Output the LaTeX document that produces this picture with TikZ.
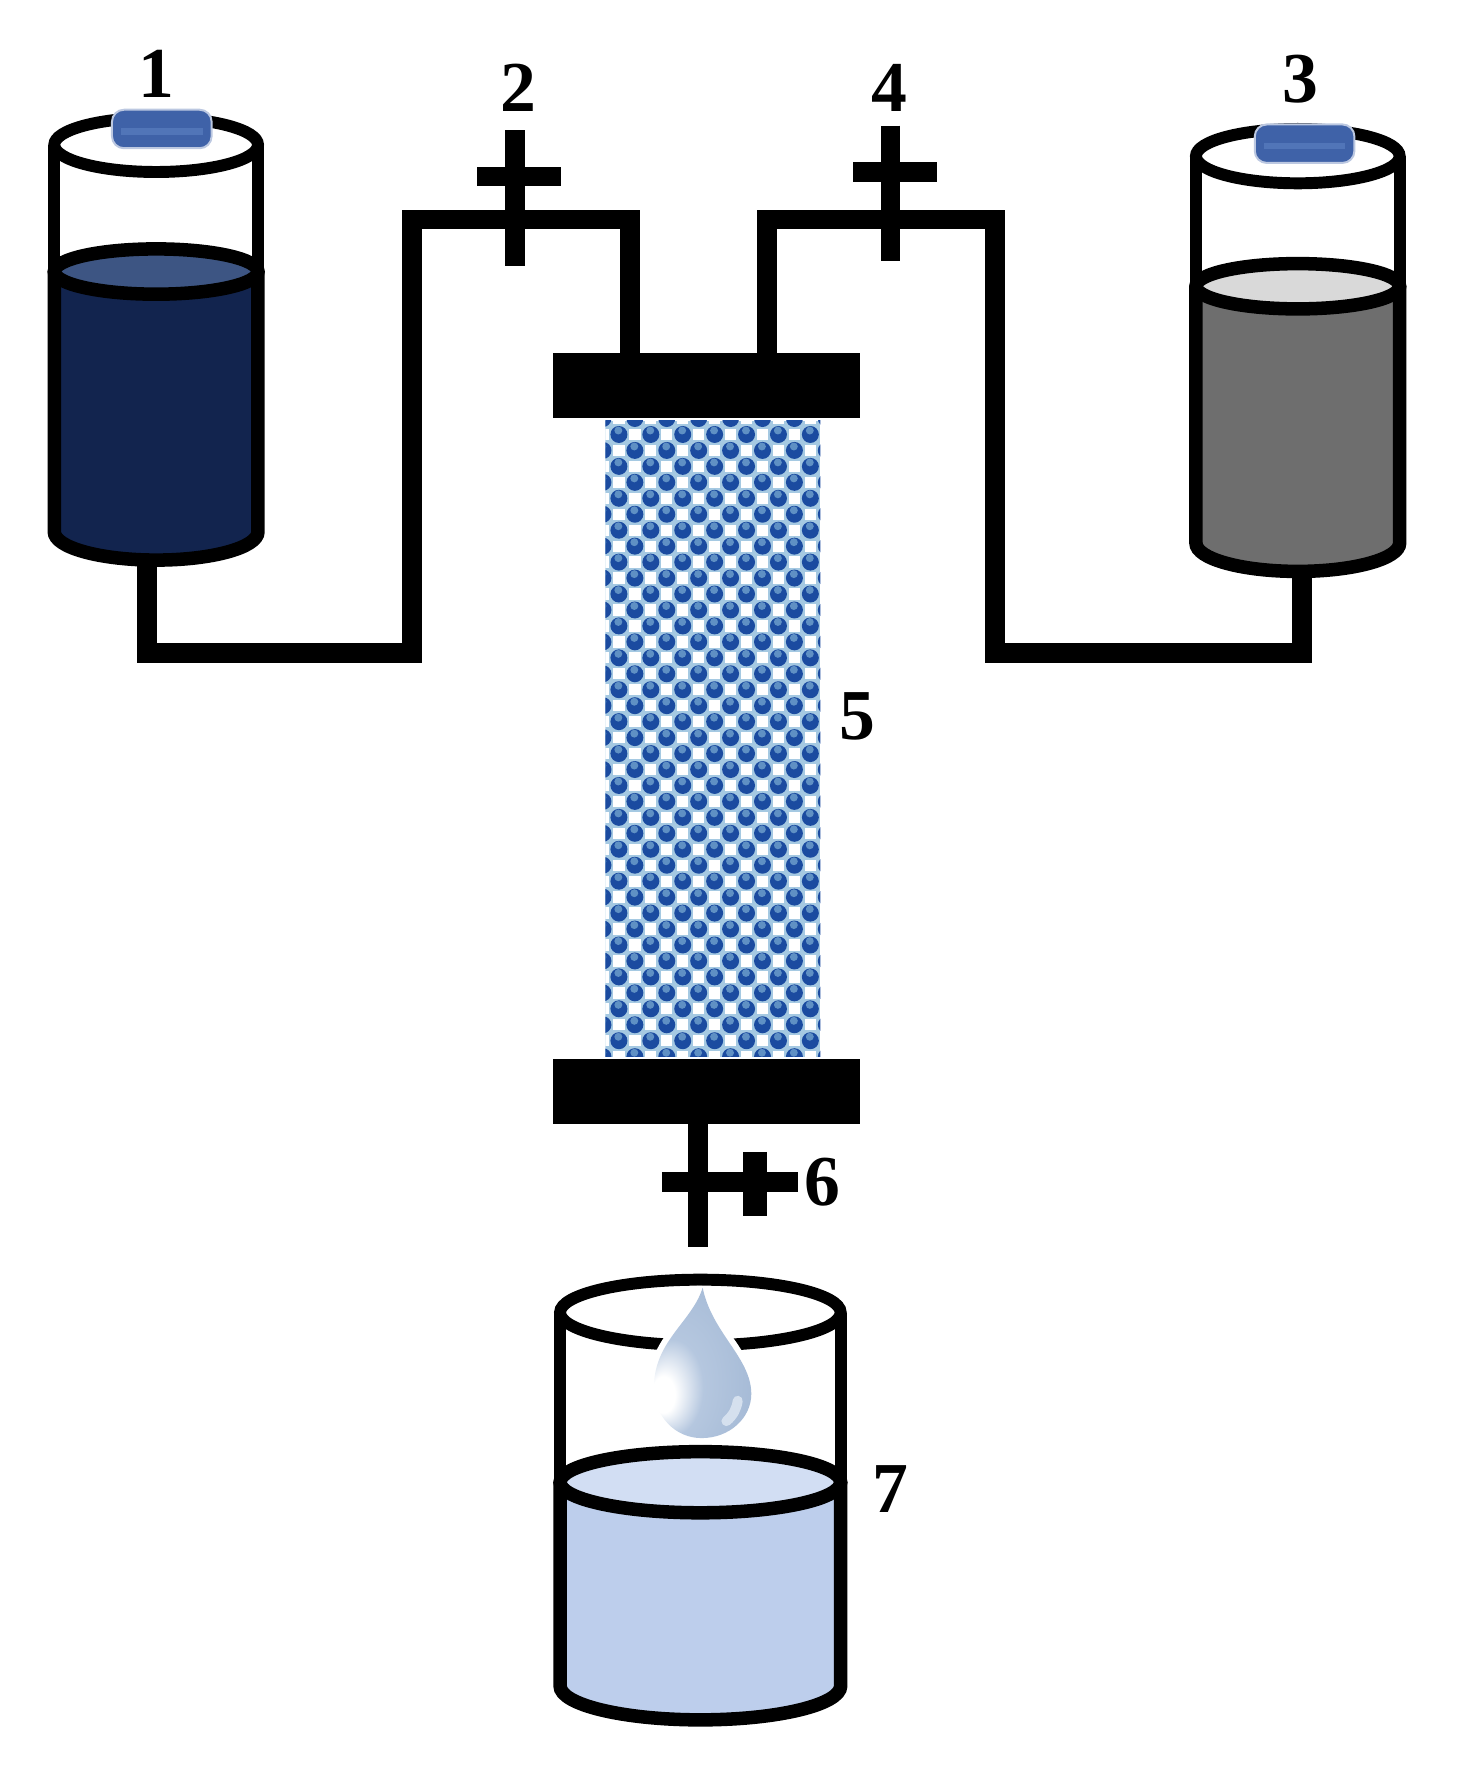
\documentclass[tikz,border=0pt]{standalone}
\usepackage{fontspec}
\setmainfont{Liberation Serif}
\usepackage{xcolor}
\definecolor{liqone}{HTML}{12244E}
\definecolor{surfone}{HTML}{3D5583}
\definecolor{liqthree}{HTML}{6E6E6E}
\definecolor{surfthree}{HTML}{D9D9D9}
\definecolor{liqseven}{HTML}{BDCEEC}
\definecolor{surfseven}{HTML}{D2DEF3}
\definecolor{capblue}{HTML}{3F62A8}
\definecolor{caplight}{HTML}{5175B8}
\definecolor{packback}{HTML}{A5C9E2}
\definecolor{packdark}{HTML}{1B4BA0}
\definecolor{packlight}{HTML}{5F90C4}
\definecolor{dropa}{HTML}{B5C7DF}
\definecolor{dropb}{HTML}{A5BAD6}
\definecolor{dropc}{HTML}{88A3C6}
\definecolor{dropd}{HTML}{D5E0EE}
\pgfdeclareradialshading{dropshade}{\pgfpoint{-23bp}{-12bp}}{color(0bp)=(white);color(6bp)=(white);color(16bp)=(dropa);color(35bp)=(dropb);color(50bp)=(dropc)}
\tikzset{
    pipe/.style={line width=5pt,line join=miter,color=black},
    valve/.style={line width=5pt,color=black},
    wall/.style={line width=3pt,color=black},
    plate/.style={fill=black,minimum width=2.71cm,minimum height=0.57cm,inner sep=0pt},
    capnode/.style={fill=capblue,draw=capblue!35!white,line width=0.5pt,rounded corners=3pt,minimum width=0.88cm,minimum height=0.34cm,inner sep=0pt},
    num/.style={font=\fontsize{18}{20}\selectfont\bfseries,inner sep=0pt}
}

\begin{document}
\begin{tikzpicture}[x=0.01cm,y=-0.01cm]
        \useasboundingbox (0,0) rectangle (1292,1567);

        % packed column
        \begin{scope}
        \clip (535,372) rectangle (725,934);
        \fill[packback] (535,372) rectangle (725,934);
        \foreach \ox/\oy in {547/384,561.1/398.1}
        \foreach \i in {-1,...,7}
        \foreach \j in {-1,...,20}
        {
        \fill[white,shift={(\ox+28.2*\i+14.1,\oy+28.2*\j)}] (-5,-5) rectangle (5,5);
        \fill[packdark,shift={(\ox+28.2*\i,\oy+28.2*\j)}] (0,0) circle (0.075cm);
        \fill[packlight,shift={(\ox+28.2*\i,\oy+28.2*\j)}] (-0.5,-3.5) circle (0.035cm);
        }
        \end{scope}

        % the three vessels: name, centre, half width, rim, level, base, their radii, colours
        \foreach \nm/\cx/\rx/\ya/\yb/\yc/\ra/\rb/\rc/\liq/\srf in {one/138/90/128/240/470/0.24/0.20/0.25/liqone/surfone,three/1147/90/138/253/480/0.24/0.20/0.25/liqthree/surfthree,seven/619/124/1160/1310/1490/0.29/0.27/0.30/liqseven/surfseven}
        {
        \fill[\liq] ({\cx-\rx},\yb) -- ({\cx-\rx},\yc) arc[start angle=180,end angle=360,x radius=\rx*0.01cm,y radius=\rc cm] -- ({\cx+\rx},\yb) -- cycle;
        \fill[\srf] (\cx,\yb) ellipse [x radius=\rx*0.01cm,y radius=\rb cm];
        \draw[wall] ({\cx-\rx},\ya) -- ({\cx-\rx},\yb) ({\cx+\rx},\ya) -- ({\cx+\rx},\yb);
        \draw[wall,line width=3.4pt] ({\cx-\rx},\yb) -- ({\cx-\rx},\yc) arc[start angle=180,end angle=360,x radius=\rx*0.01cm,y radius=\rc cm] -- ({\cx+\rx},\yb);
        \draw[wall] (\cx,\ya) ellipse [x radius=\rx*0.01cm,y radius=\ra cm];
        \draw[wall,line width=3.4pt] (\cx,\yb) ellipse [x radius=\rx*0.01cm,y radius=\rb cm];
        }

        \node[capnode] (capone) at (143,114) {};
        \node[capnode] (capthree) at (1153,127) {};
        \fill[caplight] (107,113) rectangle (179,119);
        \fill[caplight] (1117,126) rectangle (1189,132);

        % pipe corners
        \coordinate (outleft) at (130,495);
        \coordinate (lowleft) at (364,577);
        \coordinate (upleft) at (364,194);
        \coordinate (inleft) at (557,320);
        \coordinate (outright) at (1151,505);
        \coordinate (lowright) at (879,577);
        \coordinate (upright) at (879,194);
        \coordinate (inright) at (678,320);
        \coordinate (drainend) at (617,1102);

        \draw[pipe] (outleft) |- (lowleft) -- (upleft) -| (inleft);
        \draw[pipe] (outright) |- (lowright) -- (upright) -| (inright);

        % plates either end of the column
        \node[plate] (topplate) at (624.5,340.5) {};
        \node[plate] (lowplate) at (624.5,964.5) {};
        \draw[pipe] (lowplate.center -| drainend) -- (drainend);

        % valves
        \foreach \x/\y in {455/156,787/152}
        \draw[valve,shift={(\x,\y)}] (0,-41) -- (0,79) (-33,0) -- (41,0);
        \draw[valve] (585,1045) -- (705,1045);
        \draw[valve,line width=6pt] (667,1018) -- (667,1075);

        % drop
        \shade[shading=dropshade,preaction={draw=white,line width=3pt,line join=bevel}] (621,1138) .. controls (612,1168) and (578,1185) .. (578,1226) .. controls (578,1252) and (597,1271) .. (620,1271) .. controls (645,1271) and (664,1253) .. (664,1232) .. controls (664,1200) and (629,1178) .. (621,1138) -- cycle;
        \draw[dropd,line width=2.5pt,line cap=round] (652,1238) .. controls (651,1245) and (648,1251) .. (642,1256);

        % numbers
        \node[num] (numone) at (138,65) {1};
        \node[num] (numtwo) at (458,78) {2};
        \node[num] (numthree) at (1149,70) {3};
        \node[num] (numfour) at (786,78) {4};
        \node[num] (numfive) at (758,633) {5};
        \node[num] (numsix) at (727,1045) {6};
        \node[num] (numseven) at (787,1316) {7};
\end{tikzpicture}
\end{document}
